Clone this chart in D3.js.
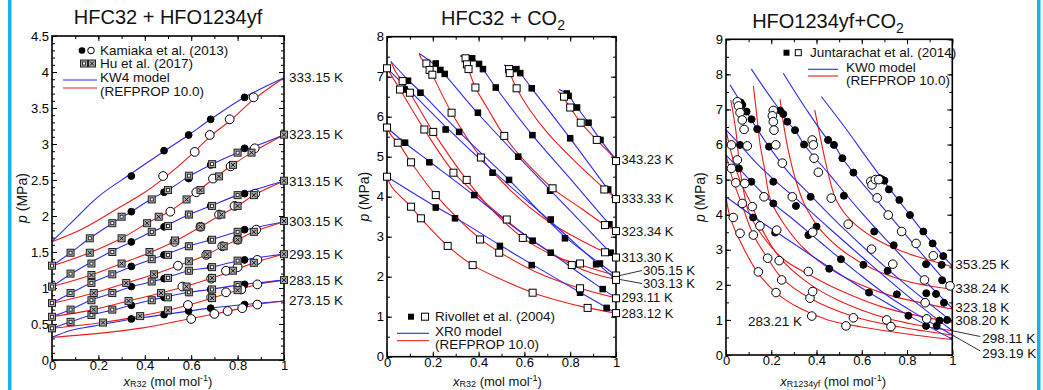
<!DOCTYPE html>
<html>
<head>
<meta charset="utf-8">
<script src="https://cdn.jsdelivr.net/npm/d3@7"></script>
<style>
body { margin: 0; background: #fff; }
svg { display: block; font-family: "Liberation Sans", Arial, sans-serif; }
</style>
</head>
<body>
<script>
// ---------- panel 1 : HFC32 + HFO1234yf ----------
const p1Temps = ["273.15 K", "283.15 K", "293.15 K", "303.15 K", "313.15 K", "323.15 K", "333.15 K"];
const p1Blue = [
  [[0,0.315],[0.08,0.41],[0.18,0.47],[0.342,0.565],[0.483,0.63],[0.59,0.68],[0.684,0.72],[0.83,0.77],[1,0.82]],
  [[0,0.44],[0.08,0.53],[0.17,0.625],[0.27,0.70],[0.342,0.764],[0.43,0.833],[0.483,0.87],[0.59,0.94],[0.684,0.98],[0.80,1.04],[1,1.11]],
  [[0,0.60],[0.08,0.70],[0.17,0.833],[0.26,0.926],[0.342,1.018],[0.43,1.088],[0.483,1.134],[0.59,1.24],[0.684,1.287],[0.80,1.375],[1,1.472]],
  [[0,0.787],[0.08,0.926],[0.17,1.074],[0.26,1.19],[0.342,1.296],[0.43,1.398],[0.483,1.458],[0.59,1.583],[0.684,1.667],[0.80,1.782],[1,1.92]],
  [[0,1.018],[0.08,1.19],[0.17,1.36],[0.27,1.53],[0.342,1.64],[0.43,1.78],[0.483,1.85],[0.59,2.02],[0.684,2.14],[0.80,2.29],[0.9,2.39],[1,2.486]],
  [[0,1.306],[0.08,1.49],[0.163,1.69],[0.26,1.90],[0.342,2.06],[0.43,2.24],[0.50,2.36],[0.59,2.55],[0.69,2.72],[0.80,2.88],[0.9,3.0],[1,3.13]],
  [[0,1.643],[0.1,1.96],[0.2,2.27],[0.342,2.59],[0.483,2.90],[0.589,3.125],[0.684,3.343],[0.83,3.648],[1,3.92]]
];
const p1Red = [
  [[0,0.315],[0.2,0.37],[0.4,0.45],[0.59,0.57],[0.70,0.64],[0.82,0.72],[0.885,0.77],[1,0.82]],
  [[0,0.44],[0.22,0.52],[0.38,0.61],[0.5,0.69],[0.585,0.76],[0.69,0.86],[0.8,0.97],[0.885,1.05],[1,1.11]],
  [[0,0.60],[0.18,0.70],[0.33,0.82],[0.47,0.93],[0.562,1.01],[0.69,1.14],[0.78,1.24],[0.87,1.35],[1,1.472]],
  [[0,0.787],[0.18,0.93],[0.32,1.07],[0.44,1.19],[0.543,1.31],[0.665,1.46],[0.737,1.58],[0.80,1.67],[0.87,1.78],[1,1.92]],
  [[0,1.018],[0.17,1.18],[0.30,1.34],[0.42,1.49],[0.53,1.65],[0.64,1.85],[0.73,2.02],[0.80,2.14],[0.87,2.29],[1,2.486]],
  [[0,1.306],[0.163,1.49],[0.30,1.69],[0.41,1.90],[0.51,2.07],[0.58,2.23],[0.69,2.50],[0.77,2.69],[0.86,2.88],[1,3.13]],
  [[0,1.643],[0.13,1.82],[0.27,2.08],[0.40,2.33],[0.48,2.52],[0.6,2.85],[0.68,3.10],[0.77,3.33],[0.87,3.62],[1,3.92]]
];
const kamiakaBubble = [
  [0.342,2.555],[0.483,2.907],[0.589,3.125],[0.684,3.343],[0.83,3.648],
  [0.342,2.06],[0.483,2.33],[0.589,2.52],[0.684,2.71],[0.83,2.94],
  [0.342,1.64],[0.483,1.85],[0.589,2.02],[0.684,2.14],[0.83,2.31],
  [0.342,1.30],[0.483,1.46],[0.589,1.58],[0.684,1.67],[0.83,1.81],
  [0.342,1.02],[0.483,1.13],[0.589,1.24],[0.684,1.29],[0.83,1.39],
  [0.342,0.76],[0.483,0.87],[0.589,0.94],[0.684,0.98],[0.83,1.05],
  [0.342,0.57],[0.483,0.63],[0.589,0.68],[0.684,0.72],[0.83,0.77]
];
const kamiakaDew = [
  [0.479,2.555],[0.615,2.89],[0.68,3.125],[0.766,3.343],[0.869,3.648],
  [0.51,2.06],[0.622,2.33],[0.694,2.52],[0.77,2.69],[0.874,2.94],
  [0.528,1.64],[0.64,1.85],[0.72,2.02],[0.787,2.14],[0.876,2.31],
  [0.543,1.31],[0.665,1.46],[0.734,1.58],[0.80,1.67],[0.88,1.81],
  [0.562,1.02],[0.686,1.13],[0.75,1.24],[0.80,1.29],[0.885,1.39],
  [0.586,0.764],[0.686,0.87],[0.75,0.94],[0.816,0.98],[0.885,1.05],
  [0.60,0.57],[0.70,0.64],[0.757,0.68],[0.82,0.72],[0.885,0.77]
];
const huBubble = [
  [0,1.31],[0.08,1.49],[0.163,1.69],[0.26,1.90],[0.30,1.99],[0.43,2.23],[0.50,2.36],[0.59,2.56],[0.69,2.72],[0.80,2.88],
  [0,1.02],[0.08,1.20],[0.17,1.34],[0.26,1.50],[0.43,1.78],[0.50,1.86],[0.59,2.02],[0.69,2.14],[0.80,2.29],
  [0,0.79],[0.08,0.93],[0.17,1.07],[0.26,1.19],[0.43,1.40],[0.50,1.46],[0.59,1.58],[0.69,1.67],[0.80,1.78],
  [0,0.60],[0.08,0.70],[0.17,0.83],[0.26,0.93],[0.43,1.09],[0.50,1.14],[0.59,1.24],[0.69,1.29],[0.80,1.38],
  [0,0.44],[0.08,0.53],[0.17,0.625],[0.26,0.70],[0.43,0.83],[0.50,0.87],[0.59,0.94],[0.69,0.98],[0.80,1.04]
];
const huDew = [
  [0.163,1.49],[0.30,1.69],[0.41,1.90],[0.46,1.99],[0.58,2.23],[0.64,2.36],[0.72,2.55],[0.78,2.71],[0.86,2.88],[1,3.13],
  [0.17,1.18],[0.30,1.34],[0.42,1.50],[0.53,1.66],[0.64,1.85],[0.73,2.02],[0.80,2.14],[0.87,2.29],[1,2.49],
  [0.18,0.93],[0.32,1.07],[0.44,1.19],[0.59,1.37],[0.67,1.47],[0.74,1.58],[0.80,1.67],[0.87,1.78],[1,1.93],
  [0.18,0.70],[0.33,0.82],[0.47,0.93],[0.58,1.02],[0.69,1.14],[0.78,1.24],[0.87,1.35],[1,1.47],
  [0.22,0.52],[0.38,0.61],[0.50,0.69],[0.69,0.86],[0.80,0.97],[1,1.11]
];

// ---------- panel 2 : HFC32 + CO2 ----------
const p2Temps = ["283.12 K", "293.11 K", "303.13 K", "305.15 K", "313.30 K", "323.34 K", "333.33 K", "343.23 K"];
const p2Blue = [
  [[0,4.50],[0.21,3.76],[0.30,3.47],[0.49,2.80],[0.63,2.32],[0.84,1.62],[0.955,1.24],[1,1.09]],
  [[0,5.73],[0.077,5.35],[0.19,4.86],[0.38,4.03],[0.5,3.48],[0.636,2.90],[0.715,2.60],[0.843,2.08],[0.942,1.69],[1,1.47]],
  [[0,7.21],[0.077,6.78],[0.256,5.75],[0.461,4.65],[0.715,3.38],[0.913,2.36],[1,1.93]],
  [[0.017,7.38],[0.092,6.92],[0.146,6.62],[0.315,5.62],[0.533,4.42],[0.777,3.0],[0.93,2.33],[1,2.03]],
  [[0.141,7.58],[0.213,7.28],[0.252,7.05],[0.397,6.08],[0.57,5.02],[0.709,4.19],[0.85,3.35],[0.977,2.60],[1,2.48]],
  [[0.32,7.52],[0.374,7.46],[0.403,7.31],[0.475,6.73],[0.635,5.54],[0.80,4.45],[0.971,3.31],[1,3.14]],
  [[0.512,7.29],[0.565,7.19],[0.582,7.09],[0.632,6.71],[0.80,5.46],[0.966,4.18],[1,3.95]],
  [[0.751,6.68],[0.785,6.58],[0.83,6.23],[0.88,5.85],[0.932,5.42],[1,4.93]]
];
const p2Red = [
  [[0,4.50],[0.02,4.25],[0.105,3.75],[0.148,3.46],[0.265,2.77],[0.374,2.29],[0.5,1.93],[0.636,1.60],[0.75,1.40],[0.876,1.22],[1,1.09]],
  [[0,5.73],[0.02,5.52],[0.048,5.35],[0.105,4.86],[0.213,4.04],[0.406,2.95],[0.49,2.62],[0.65,2.12],[0.843,1.71],[1,1.47]],
  [[0,7.21],[0.057,6.68],[0.163,5.68],[0.29,4.62],[0.40,4.0],[0.523,3.40],[0.65,2.85],[0.807,2.30],[0.9,2.08],[1,1.93]],
  [[0.017,7.38],[0.04,7.1],[0.068,6.89],[0.1,6.6],[0.202,5.62],[0.348,4.42],[0.45,3.72],[0.593,2.97],[0.72,2.55],[0.843,2.30],[1,2.03]],
  [[0.141,7.58],[0.15,7.45],[0.172,7.33],[0.198,7.05],[0.282,6.1],[0.41,4.98],[0.55,4.1],[0.7,3.4],[0.85,2.9],[0.952,2.61],[1,2.48]],
  [[0.32,7.52],[0.343,7.46],[0.356,7.19],[0.386,6.73],[0.44,6.2],[0.512,5.52],[0.6,4.9],[0.723,4.21],[0.85,3.7],[0.952,3.29],[1,3.14]],
  [[0.512,7.29],[0.533,7.19],[0.54,7.05],[0.566,6.71],[0.62,6.2],[0.7,5.6],[0.8,5.0],[0.949,4.2],[1,3.95]],
  [[0.745,6.65],[0.773,6.45],[0.80,6.23],[0.846,5.85],[0.916,5.42],[1,4.93]]
];
const rivolletFilled = [
  [0.213,7.33],[0.233,7.17],[0.252,7.07],[0.372,7.46],[0.402,7.32],[0.419,7.19],[0.565,7.19],[0.582,7.09],[0.785,6.58],[0.793,6.52],
  [0.092,6.90],[0.077,6.68],[0.146,6.60],[0.256,5.68],[0.315,5.62],[0.397,6.10],[0.475,6.73],[0.632,6.71],[0.83,6.23],[0.88,5.85],
  [0.932,5.42],[0.80,5.46],[0.635,5.54],[0.573,5.0],[0.533,4.42],[0.461,4.6],[0.381,4.04],[0.185,4.86],[0.079,5.35],
  [0.213,3.73],[0.297,3.46],[0.493,2.77],[0.632,2.29],[0.843,1.60],[0.959,1.22],[0.715,3.43],[0.715,2.60],[0.636,2.90],
  [0.777,2.96],[0.712,4.15],[0.913,2.31],[0.93,2.33],[0.942,1.69],[0.966,4.18],[0.971,3.31],[0.977,2.60]
];
const rivolletOpen = [
  [0,7.21],[0,5.73],[0,4.50],[1,4.89],[1,3.94],[1,3.14],[1,2.48],[1,2.03],[1,1.92],[1,1.46],[1,1.09],
  [0.172,7.33],[0.186,7.17],[0.198,7.05],[0.343,7.46],[0.349,7.31],[0.356,7.19],[0.533,7.19],[0.536,7.09],
  [0.773,6.5],[0.80,6.23],[0.846,5.85],[0.916,5.42],
  [0.068,6.89],[0.057,6.68],[0.1,6.6],[0.163,5.68],[0.202,5.62],[0.282,6.1],[0.386,6.73],[0.566,6.71],[0.512,5.52],
  [0.41,4.98],[0.29,4.6],[0.348,4.42],[0.105,4.86],[0.047,5.35],[0.723,4.21],[0.949,4.18],
  [0.105,3.75],[0.148,3.46],[0.213,4.04],[0.265,2.77],[0.374,2.29],[0.406,2.93],[0.49,2.60],[0.523,3.43],[0.593,2.97],
  [0.636,1.60],[0.807,2.29],[0.843,2.33],[0.843,1.71],[0.876,1.22],[0.952,3.29],[0.952,2.61]
];

// ---------- panel 3 : HFO1234yf + CO2 ----------
const p3Temps = ["283.21 K", "293.19 K", "298.11 K", "308.20 K", "323.18 K", "338.24 K", "353.25 K"];
const p3Blue = [
  [[0,4.51],[0.12,3.95],[0.247,3.40],[0.468,2.45],[0.632,1.78],[0.806,1.13],[1,0.45]],
  [[0,5.70],[0.057,5.32],[0.112,4.94],[0.209,4.32],[0.3,3.85],[0.42,3.2],[0.58,2.35],[0.72,1.66],[0.86,1.1],[1,0.57]],
  [[0,6.42],[0.062,5.99],[0.138,5.45],[0.22,4.95],[0.32,4.4],[0.45,3.65],[0.6,2.8],[0.8,1.7],[1,0.69]],
  [[0.018,7.70],[0.072,7.13],[0.138,6.44],[0.19,5.94],[0.277,5.2],[0.374,4.55],[0.52,3.6],[0.75,2.25],[1,0.95]],
  [[0.112,8.15],[0.18,7.5],[0.239,6.97],[0.271,6.65],[0.305,6.41],[0.345,6.0],[0.45,5.2],[0.6,4.05],[0.8,2.65],[1,1.33]],
  [[0.253,8.03],[0.35,7.05],[0.451,6.13],[0.477,5.99],[0.514,5.61],[0.563,5.20],[0.7,4.15],[0.85,3.0],[1,1.87]],
  [[0.421,7.37],[0.53,6.45],[0.63,5.55],[0.728,4.70],[0.813,3.99],[0.872,3.5],[0.913,3.18],[0.96,2.82],[1,2.54]]
];
const p3Red = [
  [[0,4.51],[0.018,3.94],[0.062,3.25],[0.14,2.35],[0.22,1.78],[0.327,1.33],[0.45,1.0],[0.6,0.8],[0.8,0.6],[1,0.44]],
  [[0,5.70],[0.03,5.0],[0.069,4.32],[0.121,3.42],[0.184,2.76],[0.246,2.2],[0.371,1.62],[0.563,1.1],[0.75,0.82],[1,0.57]],
  [[0,6.42],[0.03,5.6],[0.07,4.85],[0.114,4.28],[0.15,3.7],[0.235,2.8],[0.364,2.05],[0.5,1.55],[0.71,1.05],[1,0.69]],
  [[0.021,7.27],[0.043,6.42],[0.062,5.28],[0.08,4.61],[0.097,4.13],[0.15,3.5],[0.25,2.75],[0.364,2.3],[0.5,1.85],[0.7,1.35],[1,0.93]],
  [[0.121,7.67],[0.135,6.89],[0.15,6.03],[0.171,5.28],[0.197,4.42],[0.26,3.7],[0.35,3.0],[0.5,2.3],[0.7,1.75],[1,1.31]],
  [[0.239,7.29],[0.256,6.51],[0.278,5.75],[0.308,4.99],[0.345,4.32],[0.42,3.55],[0.52,2.95],[0.65,2.45],[0.8,2.1],[1,1.87]],
  [[0.392,6.99],[0.419,6.13],[0.448,5.28],[0.485,4.45],[0.55,3.85],[0.65,3.35],[0.78,2.95],[0.9,2.7],[1,2.52]]
];
const juntFilled = [
  [0.065,7.2],[0.072,7.13],[0.091,6.94],[0.113,6.72],[0.138,6.44],[0.19,5.94],
  [0.239,6.97],[0.253,6.87],[0.271,6.65],[0.305,6.41],[0.345,6.0],
  [0.451,6.13],[0.477,5.99],[0.514,5.61],[0.563,5.20],
  [0.68,5.04],[0.69,5.0],[0.70,4.97],[0.72,4.72],
  [0.766,4.42],[0.813,3.99],[0.872,3.52],[0.913,3.18],[0.96,2.82],
  [0.062,5.99],[0.057,5.32],[0.112,4.94],[0.209,4.94],[0.209,4.32],[0.309,4.25],[0.374,4.51],[0.521,4.54],
  [0.12,3.92],[0.217,3.49],[0.364,3.42],[0.40,3.66],[0.456,2.46],[0.508,2.73],[0.607,2.57],[0.632,1.78],[0.655,3.52],
  [0.714,2.40],[0.741,3.13],[0.755,1.73],[0.806,1.12],[0.884,0.83],[0.931,0.83],[0.943,0.98],[0.977,1.0],
  [0.884,2.59],[0.928,1.74],[0.953,2.57],[0.963,1.49],[0.955,2.13],[0.885,1.76]
];
const juntOpen = [
  [0.05,7.22],[0.055,7.1],[0.062,6.91],[0.072,6.70],[0.08,6.43],
  [0.209,6.97],[0.205,6.82],[0.209,6.65],[0.212,6.41],[0.22,5.99],
  [0.381,6.13],[0.386,5.99],[0.389,5.61],[0.408,5.21],
  [0.64,4.95],[0.645,4.85],[0.66,5.0],[0.675,5.0],[0.668,4.48],
  [0.717,3.99],[0.776,3.52],[0.84,3.18],[0.916,2.83],[0.99,1.97],
  [0.024,5.99],[0.094,5.96],[0.05,5.56],[0.024,5.32],[0.043,4.91],[0.083,4.89],[0.168,4.51],[0.293,4.51],[0.249,5.47],
  [0.465,4.47],[0.072,4.32],[0.116,4.23],
  [0.032,3.92],[0.062,3.47],[0.121,3.42],[0.15,3.68],[0.143,2.37],[0.184,2.76],[0.221,1.78],[0.224,3.56],[0.235,2.69],
  [0.246,2.14],[0.364,2.38],[0.371,1.62],[0.383,1.81],[0.379,1.11],[0.383,3.5],[0.53,0.83],[0.54,3.73],[0.563,1.06],
  [0.643,3.02],[0.71,1.0],[0.729,0.81],[0.737,2.59],[0.877,2.14],[0.88,1.49],[0.887,1.03]
];

const xTicks = [0, 0.2, 0.4, 0.6, 0.8, 1];
const p1YTicks = [0, 0.5, 1, 1.5, 2, 2.5, 3, 3.5, 4, 4.5];
const p2YTicks = [0, 1, 2, 3, 4, 5, 6, 7, 8];
const p3YTicks = [0, 1, 2, 3, 4, 5, 6, 7, 8, 9];

const BLUE = "#2b2bf0", RED = "#f01a1a";
const W = 1043, H = 390;
const fmt = d3.format("~g");

const svg = d3.select("body").append("svg").attr("width", W).attr("height", H);

// cyan side bars of the slide
svg.append("rect").attr("x", 8).attr("y", 0).attr("width", 3.5).attr("height", H).attr("fill", "#1cb0ee");
svg.append("rect").attr("x", 1037).attr("y", 0).attr("width", 3.5).attr("height", H).attr("fill", "#1cb0ee");

function panel(o) {
  const x = d3.scaleLinear().domain([0, 1]).range([o.left, o.right]);
  const y = d3.scaleLinear().domain([0, o.pmax]).range([o.bottom, o.top]);
  const g = svg.append("g");

  function ax(gen, tr) {
    const a = g.append("g").attr("transform", tr).call(gen);
    a.select(".domain").remove();
    a.attr("font-family", null).attr("font-size", null);
    a.selectAll("line").attr("stroke", "#000").attr("stroke-width", 1);
    a.selectAll("text").attr("font-size", 13).attr("fill", "#000");
    return a;
  }
  const xMinor = d3.range(0, 1.0001, 0.1);
  const yMinor = d3.range(0, o.pmax + 0.0001, o.yMinor);

  ax(d3.axisBottom(x).tickValues(xMinor).tickSize(-3).tickFormat(""), `translate(0,${o.bottom})`);
  ax(d3.axisTop(x).tickValues(xMinor).tickSize(-3).tickFormat(""), `translate(0,${o.top})`);
  ax(d3.axisLeft(y).tickValues(yMinor).tickSize(-3).tickFormat(""), `translate(${o.left},0)`);
  ax(d3.axisRight(y).tickValues(yMinor).tickSize(-3).tickFormat(""), `translate(${o.right},0)`);
  ax(d3.axisBottom(x).tickValues(xTicks).tickSize(-5).tickPadding(1).tickFormat(fmt), `translate(0,${o.bottom})`);
  ax(d3.axisTop(x).tickValues(xTicks).tickSize(-5).tickFormat(""), `translate(0,${o.top})`);
  ax(d3.axisLeft(y).tickValues(o.yTicks).tickSize(-5).tickPadding(3).tickFormat(fmt), `translate(${o.left},0)`);
  ax(d3.axisRight(y).tickValues(o.yTicks).tickSize(-5).tickFormat(""), `translate(${o.right},0)`);

  const line = d3.line().x(d => x(d[0])).y(d => y(d[1])).curve(d3.curveCatmullRom.alpha(0.5));
  o.red.forEach(c => g.append("path").attr("d", line(c)).attr("fill", "none").attr("stroke", RED).attr("stroke-width", 1.1));
  o.blue.forEach(c => g.append("path").attr("d", line(c)).attr("fill", "none").attr("stroke", BLUE).attr("stroke-width", 1.1));

  g.append("rect").attr("x", o.left).attr("y", o.top)
    .attr("width", o.right - o.left).attr("height", o.bottom - o.top)
    .attr("fill", "none").attr("stroke", "#000").attr("stroke-width", 1.6);

  // title
  const t = g.append("text").attr("x", o.titleX).attr("y", o.titleY).attr("text-anchor", "middle")
    .attr("font-size", 20).attr("fill", "#111");
  t.append("tspan").text(o.title);
  if (o.titleSub) t.append("tspan").attr("font-size", 14).attr("dy", 5).text(o.titleSub);

  // y title
  const yt = g.append("text").attr("transform", `translate(${o.yLabelX},${(o.top + o.bottom) / 2}) rotate(-90)`)
    .attr("text-anchor", "middle").attr("font-size", 14).attr("fill", "#111");
  yt.append("tspan").attr("font-style", "italic").text("p");
  yt.append("tspan").text(" (MPa)");

  // x title
  const xt = g.append("text").attr("x", (o.left + o.right) / 2 + o.xLabelDx).attr("y", 385.5)
    .attr("text-anchor", "middle").attr("font-size", 13).attr("fill", "#111");
  xt.append("tspan").attr("font-style", "italic").text("x");
  xt.append("tspan").attr("font-size", 9).attr("dy", 1.5).text(o.xSub);
  xt.append("tspan").attr("dy", -1.5).text(" (mol mol");
  xt.append("tspan").attr("font-size", 9).attr("dy", -5).text("-1");
  xt.append("tspan").attr("dy", 5).text(")");

  return { x, y, g };
}

function dots(P, data, r, filled) {
  P.g.selectAll(null).data(data).enter().append("circle")
    .attr("cx", d => P.x(d[0])).attr("cy", d => P.y(d[1])).attr("r", r)
    .attr("fill", filled ? "#000" : "#fff").attr("stroke", "#000").attr("stroke-width", 1);
}
function squares(P, data, s, filled) {
  P.g.selectAll(null).data(data).enter().append("rect")
    .attr("x", d => P.x(d[0]) - s / 2).attr("y", d => P.y(d[1]) - s / 2)
    .attr("width", s).attr("height", s)
    .attr("fill", filled ? "#000" : "#fff").attr("stroke", "#000").attr("stroke-width", 1);
}
function huMark(g, cx, cy, cross) {
  const s = 7;
  g.append("rect").attr("x", cx - s / 2).attr("y", cy - s / 2).attr("width", s).attr("height", s)
    .attr("fill", "#a8a8a8").attr("stroke", "#222").attr("stroke-width", 1);
  if (cross) {
    g.append("path").attr("d", `M${cx - 2},${cy - 2}L${cx + 2},${cy + 2}M${cx + 2},${cy - 2}L${cx - 2},${cy + 2}`)
      .attr("stroke", "#111").attr("stroke-width", 1);
  } else {
    g.append("rect").attr("x", cx - 1.5).attr("y", cy - 1.5).attr("width", 3).attr("height", 3)
      .attr("fill", "#fff").attr("stroke", "#111").attr("stroke-width", 0.8);
  }
}
function label(g, x, y, txt, size) {
  g.append("text").attr("x", x).attr("y", y).attr("dominant-baseline", "central")
    .attr("font-size", size || 13.5).attr("fill", "#111").text(txt);
}
function legLine(g, x1, x2, y, c) {
  g.append("line").attr("x1", x1).attr("x2", x2).attr("y1", y).attr("y2", y)
    .attr("stroke", c).attr("stroke-width", 1.1);
}

// ---------------- panel 1 ----------------
const P1 = panel({
  left: 52, right: 284, top: 36, bottom: 360, pmax: 4.5, yTicks: p1YTicks, yMinor: 0.1,
  blue: p1Blue, red: p1Red, title: "HFC32 + HFO1234yf", titleX: 168, titleY: 24,
  yLabelX: 27, xSub: "R32", xLabelDx: 0
});
dots(P1, kamiakaBubble, 3.4, true);
dots(P1, kamiakaDew, 4.4, false);
huBubble.forEach(d => huMark(P1.g, P1.x(d[0]), P1.y(d[1]), false));
huDew.forEach(d => huMark(P1.g, P1.x(d[0]), P1.y(d[1]), true));
p1Temps.forEach((t, i) => {
  const e = p1Blue[i][p1Blue[i].length - 1];
  label(P1.g, P1.x(1) + 5, P1.y(e[1]), t);
});
// legend
P1.g.append("circle").attr("cx", 82).attr("cy", 50.5).attr("r", 3.3).attr("fill", "#000");
P1.g.append("circle").attr("cx", 91).attr("cy", 50.5).attr("r", 3.3).attr("fill", "#fff").attr("stroke", "#000");
label(P1.g, 100, 50.5, "Kamiaka et al. (2013)");
huMark(P1.g, 84, 63.5, false);
huMark(P1.g, 92, 63.5, true);
label(P1.g, 100, 63.5, "Hu et al. (2017)");
legLine(P1.g, 63, 97, 80, BLUE);
label(P1.g, 100, 77.5, "KW4 model");
legLine(P1.g, 63, 97, 88, RED);
label(P1.g, 100, 91.5, "(REFPROP 10.0)");

// ---------------- panel 2 ----------------
const P2 = panel({
  left: 387, right: 616, top: 36.7, bottom: 356.7, pmax: 8, yTicks: p2YTicks, yMinor: 0.5,
  blue: p2Blue, red: p2Red, title: "HFC32 + CO", titleSub: "2", titleX: 503, titleY: 25,
  yLabelX: 369, xSub: "R32", xLabelDx: -4
});
squares(P2, rivolletFilled, 5.5, true);
squares(P2, rivolletOpen, 7, false);
const p2LabelShift = { 2: [27, 4], 3: [27, -5] };
p2Temps.forEach((t, i) => {
  const e = p2Blue[i][p2Blue[i].length - 1];
  const ex = P2.x(1), ey = P2.y(e[1]);
  const sh = p2LabelShift[i];
  if (sh) {
    P2.g.append("line").attr("x1", ex + 4).attr("y1", ey).attr("x2", ex + sh[0] - 1).attr("y2", ey + sh[1])
      .attr("stroke", "#000").attr("stroke-width", 0.8);
    label(P2.g, ex + sh[0], ey + sh[1], t, 13);
  } else {
    label(P2.g, ex + 5.5, ey, t, 13);
  }
});
P2.g.append("rect").attr("x", 408).attr("y", 313.7).attr("width", 6).attr("height", 6).attr("fill", "#000");
P2.g.append("rect").attr("x", 421.5).attr("y", 313.2).attr("width", 7).attr("height", 7).attr("fill", "#fff").attr("stroke", "#000");
label(P2.g, 435, 316.7, "Rivollet et al. (2004)");
legLine(P2.g, 397, 429, 333.3, BLUE);
label(P2.g, 435, 331, "XR0 model");
legLine(P2.g, 397, 429, 340.7, RED);
label(P2.g, 435, 344, "(REFPROP 10.0)");

// ---------------- panel 3 ----------------
const P3 = panel({
  left: 726, right: 952.3, top: 39.3, bottom: 355, pmax: 9, yTicks: p3YTicks, yMinor: 0.5,
  blue: p3Blue, red: p3Red, title: "HFO1234yf+CO", titleSub: "2", titleX: 828, titleY: 28,
  yLabelX: 705, xSub: "R1234yf", xLabelDx: -6
});
dots(P3, juntFilled, 3.5, true);
dots(P3, juntOpen, 4.3, false);
p3Temps.forEach((t, i) => {
  const e = p3Blue[i][p3Blue[i].length - 1];
  const ex = P3.x(1), ey = P3.y(e[1]);
  if (i === 0) {
    label(P3.g, 748, 321, t);
  } else if (i === 1 || i === 2) {
    const ty = i === 1 ? 353 : 338.5;
    P3.g.append("line").attr("x1", ex).attr("y1", ey).attr("x2", ex + 28).attr("y2", ty - 2)
      .attr("stroke", "#000").attr("stroke-width", 0.8);
    label(P3.g, ex + 30, ty, t);
  } else {
    label(P3.g, ex + 3, ey - 1, t);
  }
});
P3.g.append("rect").attr("x", 783.5).attr("y", 49.7).attr("width", 6).attr("height", 6).attr("fill", "#000");
P3.g.append("rect").attr("x", 795.3).attr("y", 49.7).attr("width", 6).attr("height", 6).attr("fill", "#fff").attr("stroke", "#000");
label(P3.g, 810, 52.7, "Juntarachat et al. (2014)");
legLine(P3.g, 808, 838, 69.3, BLUE);
label(P3.g, 846, 67.5, "KW0 model");
legLine(P3.g, 808, 838, 76, RED);
label(P3.g, 846, 80.5, "(REFPROP 10.0)");
</script>
</body>
</html>
